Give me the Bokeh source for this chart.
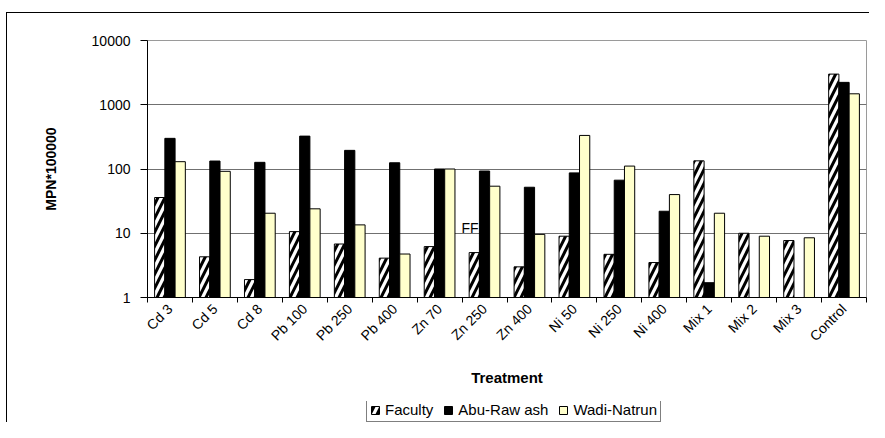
import math
from bokeh.plotting import figure
from bokeh.layouts import column
from bokeh.models import (ColumnDataSource, FixedTicker, PrintfTickFormatter, Legend,
                          LegendItem, Label, Range1d)
from bokeh.transform import dodge
from bokeh.embed import file_html
from bokeh.resources import INLINE

categories = ["Cd 3", "Cd 5", "Cd 8", "Pb 100", "Pb 250", "Pb 400", "Zn 70", "Zn 250",
              "Zn 400", "Ni 50", "Ni 250", "Ni 400", "Mix 1", "Mix 2", "Mix 3", "Control"]
faculty = [36, 4.3, 1.9, 10.6, 6.8, 4.1, 6.2, 5.0, 3.0, 9.0, 4.7, 3.5, 134, 10, 7.7, 3000]
abu_rawash = [300, 133, 127, 325, 195, 125, 100, 93, 52, 87, 67, 22, 1.7, None, None, 2230]
wadi_natrun = [130, 92, 20.5, 24, 13.5, 4.75, 100, 54, 9.6, 333, 111, 40, 20.5, 9.0, 8.5, 1480]
y_ticks = [1, 10, 100, 1000, 10000]
series_names = ["Faculty", "Abu-Raw ash", "Wadi-Natrun"]

FONT = "Liberation Sans"
W = 869
H_MAIN = 401
H_LEG = 21
LEFT = 147
RIGHT = 3

STYLES = [
    dict(fill_color="white", line_color="black", line_width=1,
         hatch_pattern="right_diagonal_line", hatch_color="black", hatch_scale=14, hatch_weight=3),
    dict(fill_color="black", line_color="black", line_width=1),
    dict(fill_color="#FFFFCC", line_color="black", line_width=1),
]

p = figure(width=W, height=H_MAIN, output_backend="svg", toolbar_location=None,
           y_axis_type="log", x_range=Range1d(0, len(categories)), y_range=Range1d(1, 10000),
           min_border_left=LEFT, min_border_top=40, min_border_right=RIGHT,
           min_border_bottom=H_MAIN - 297)
p.background_fill_color = "white"
p.border_fill_color = None
p.outline_line_color = "#9a9a9a"
p.outline_line_width = 1

def src(vals):
    xs = [i + 0.5 for i, v in enumerate(vals) if v is not None]
    tops = [v for v in vals if v is not None]
    return ColumnDataSource(dict(x=xs, top=tops))

bw = 0.228
offsets = [-bw, 0, bw]
for vals, off, st in zip([faculty, abu_rawash, wadi_natrun], offsets, STYLES):
    p.vbar(x=dodge("x", off, range=p.x_range), top="top", bottom=1, width=bw, source=src(vals), **st)

# x axis
centers = [i + 0.5 for i in range(len(categories))]
p.xaxis.ticker = FixedTicker(ticks=centers, minor_ticks=list(range(len(categories) + 1)))
p.xaxis.major_label_overrides = {c: name for c, name in zip(centers, categories)}
p.xaxis.major_label_orientation = math.pi / 4
p.xaxis.major_tick_out = 0
p.xaxis.major_tick_in = 0
p.xaxis.minor_tick_out = 5
p.xaxis.minor_tick_in = 0
p.xaxis.minor_tick_line_color = "black"
p.xaxis.axis_line_color = "black"
p.xaxis.major_label_text_font = FONT
p.xaxis.major_label_text_font_size = "14px"
p.xaxis.major_label_text_color = "black"
p.xaxis.major_label_standoff = 4
p.xaxis.axis_label = "Treatment"
p.xaxis.axis_label_text_font = FONT
p.xaxis.axis_label_text_font_size = "15px"
p.xaxis.axis_label_text_font_style = "bold"
p.xaxis.axis_label_text_color = "black"
p.xaxis.axis_label_standoff = 16

# y axis
p.yaxis.ticker = FixedTicker(ticks=y_ticks, minor_ticks=[])
p.yaxis.formatter = PrintfTickFormatter(format="%d")
p.yaxis.major_tick_out = 7
p.yaxis.major_tick_in = 0
p.yaxis.major_tick_line_color = "black"
p.yaxis.axis_line_color = "black"
p.yaxis.major_label_text_font = FONT
p.yaxis.major_label_text_font_size = "14px"
p.yaxis.major_label_text_color = "black"
p.yaxis.major_label_standoff = 10
p.yaxis.axis_label = "MPN*100000"
p.yaxis.axis_label_text_font = FONT
p.yaxis.axis_label_text_font_size = "14px"
p.yaxis.axis_label_text_font_style = "bold"
p.yaxis.axis_label_text_color = "black"
p.yaxis.axis_label_standoff = 30

p.xgrid.visible = False
p.ygrid.ticker = FixedTicker(ticks=y_ticks, minor_ticks=[])
p.ygrid.grid_line_color = "#707070"
p.ygrid.grid_line_width = 1

# stray label in the original
p.add_layout(Label(x=314, y=62, x_units="screen", y_units="screen", text="FF",
                   text_font=FONT, text_font_size="14px", text_color="black"))

# legend strip (separate figure so the legend box is not clipped by the plot frame)
lf = figure(width=W, height=H_LEG, output_backend="svg", toolbar_location=None,
            x_range=Range1d(0, 1), y_range=Range1d(0, 1),
            min_border_left=LEFT, min_border_right=RIGHT, min_border_top=0, min_border_bottom=0)
lf.axis.visible = False
lf.grid.visible = False
lf.outline_line_color = None
lf.background_fill_color = None
lf.border_fill_color = None
items = []
for name, st in zip(series_names, STYLES):
    # proxy renderers placed outside the visible range; only their legend glyphs show
    r = lf.vbar(x="x", top="top", bottom=-5, width=0.1,
                source=ColumnDataSource(dict(x=[-10], top=[-4])), **st)
    items.append(LegendItem(label=name, renderers=[r]))
legend = Legend(items=items, orientation="horizontal", location=(219, 0),
                label_text_font=FONT, label_text_font_size="15px", label_text_color="black",
                label_height=15, glyph_width=10, glyph_height=10, label_standoff=5,
                spacing=10, padding=3, margin=0,
                border_line_color="black", border_line_width=1,
                background_fill_color="white", background_fill_alpha=1)
lf.add_layout(legend, "center")

layout = column(p, lf, spacing=0)
# outer chart-area border (left and top edges)
layout.styles = {
    "background": ("linear-gradient(#000, #000) 6px 12px / 1px 100% no-repeat, "
                   "linear-gradient(#000, #000) 6px 12px / 100% 1px no-repeat, #ffffff"),
}

open("out.html", "w").write(file_html(layout, INLINE))
